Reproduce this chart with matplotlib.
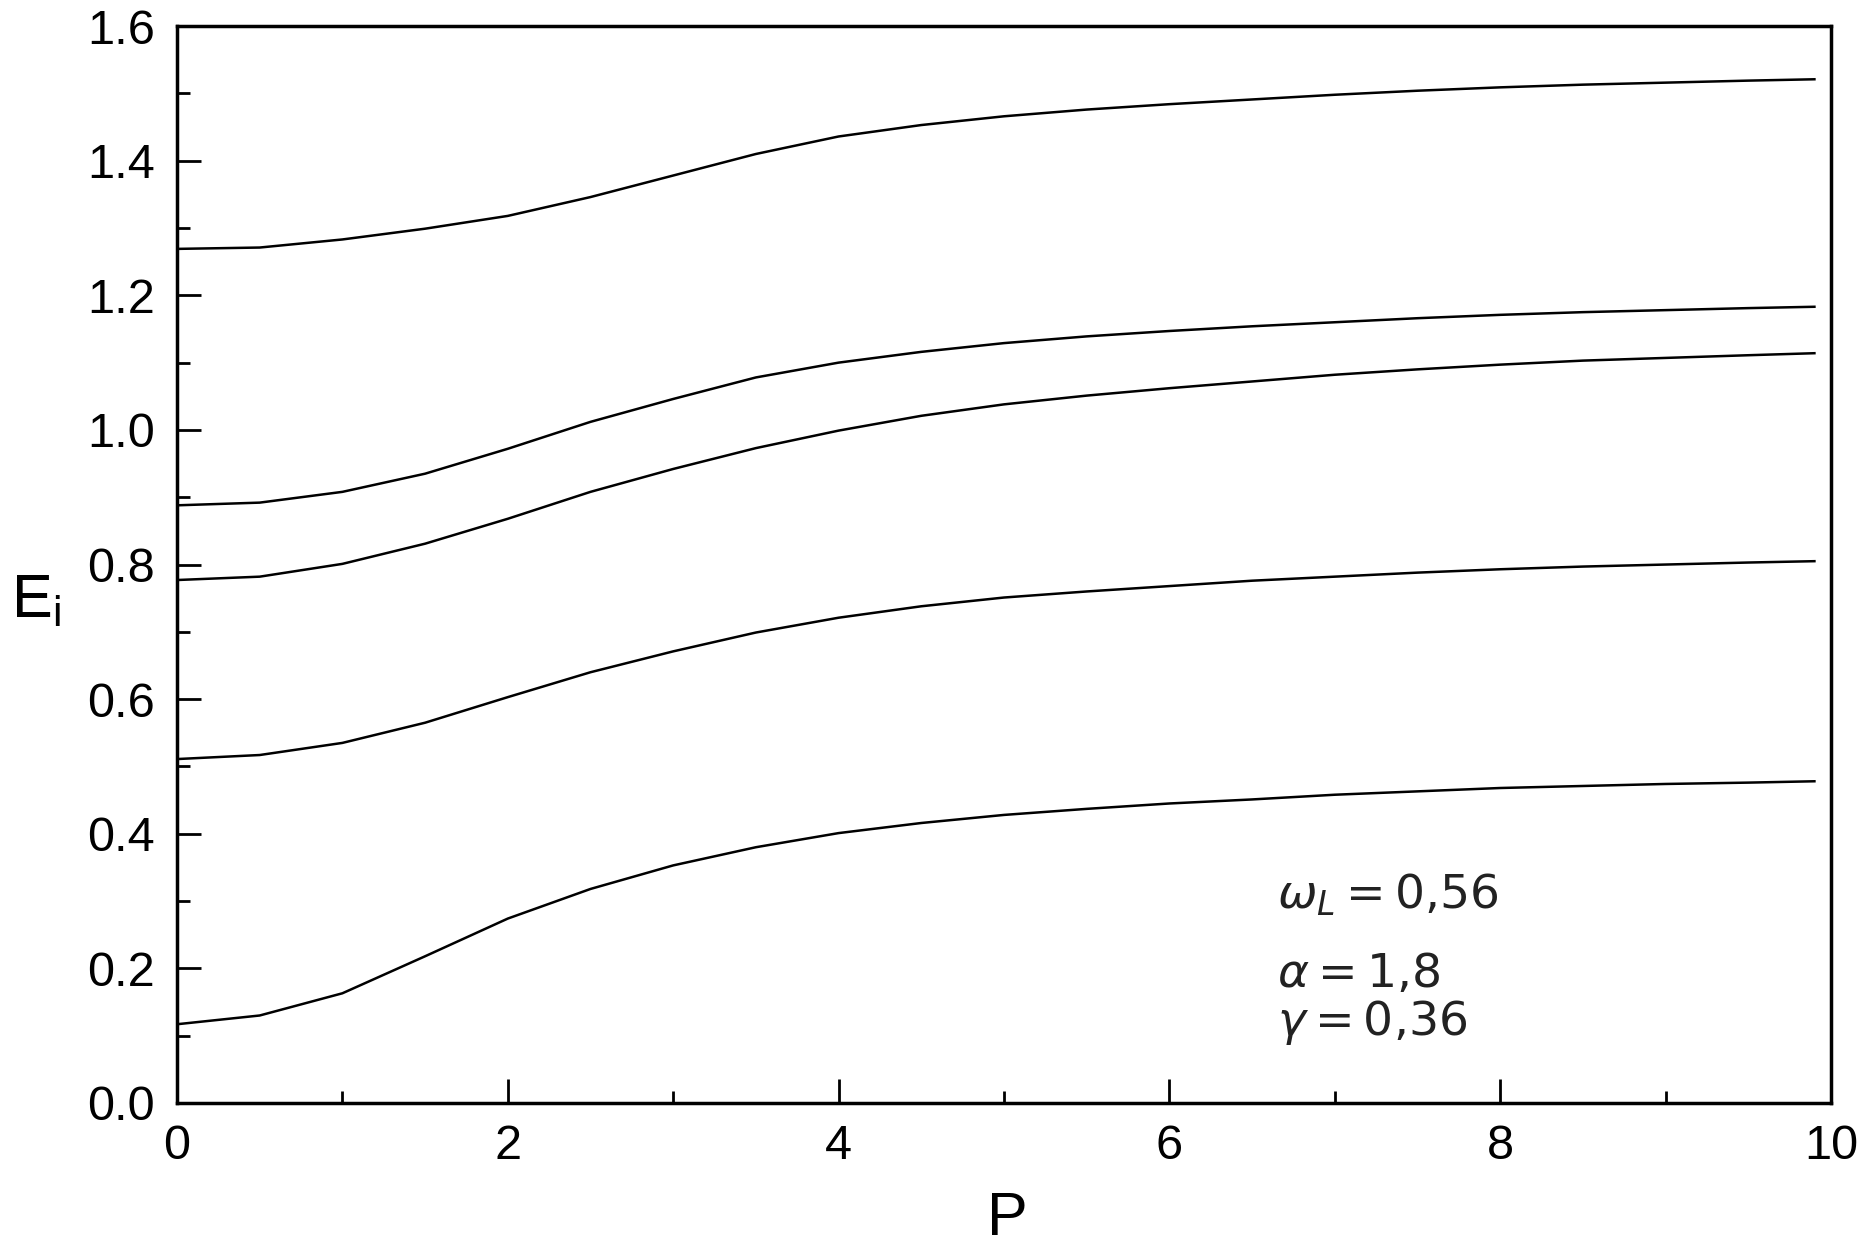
import matplotlib
matplotlib.use("Agg")
import matplotlib.pyplot as plt
from matplotlib.ticker import MultipleLocator

# values
P = [0, 0.5, 1, 1.5, 2, 2.5, 3, 3.5, 4, 4.5, 5, 5.5, 6, 6.5, 7, 7.5, 8, 8.5, 9, 9.5, 9.9]

E1 = [1.269, 1.271, 1.283, 1.299, 1.318, 1.346, 1.378, 1.410, 1.436, 1.453, 1.466,
      1.476, 1.484, 1.491, 1.498, 1.504, 1.509, 1.513, 1.516, 1.519, 1.521]
E2 = [0.888, 0.892, 0.908, 0.935, 0.972, 1.012, 1.046, 1.078, 1.100, 1.116, 1.129,
      1.139, 1.147, 1.154, 1.160, 1.166, 1.171, 1.175, 1.178, 1.181, 1.183]
E3 = [0.777, 0.782, 0.801, 0.831, 0.868, 0.908, 0.942, 0.973, 0.999, 1.021, 1.038,
      1.051, 1.062, 1.072, 1.082, 1.090, 1.097, 1.103, 1.107, 1.111, 1.114]
E4 = [0.511, 0.517, 0.535, 0.565, 0.603, 0.640, 0.671, 0.699, 0.721, 0.738, 0.751,
      0.760, 0.768, 0.776, 0.782, 0.788, 0.793, 0.797, 0.800, 0.803, 0.805]
E5 = [0.117, 0.130, 0.163, 0.218, 0.274, 0.318, 0.353, 0.380, 0.401, 0.416, 0.428,
      0.437, 0.445, 0.451, 0.458, 0.463, 0.468, 0.471, 0.474, 0.476, 0.478]

params = [r"$\omega_L = 0{,}56$", r"$\alpha = 1{,}8$", r"$\gamma = 0{,}36$"]
param_y = [0.308, 0.190, 0.120]

plt.rcParams['font.family'] = ['Liberation Sans', 'DejaVu Sans']
plt.rcParams['mathtext.fontset'] = 'dejavusans'

fig = plt.figure(figsize=(18.71, 12.49), dpi=100)
ax = fig.add_axes([0.0946, 0.1169, 0.8840, 0.8622])

for E in [E1, E2, E3, E4, E5]:
    ax.plot(P, E, color='black', lw=1.8)

ax.set_xlim(0, 10)
ax.set_ylim(0, 1.6)
ax.xaxis.set_major_locator(MultipleLocator(2))
ax.xaxis.set_minor_locator(MultipleLocator(1))
ax.yaxis.set_major_locator(MultipleLocator(0.2))
ax.yaxis.set_minor_locator(MultipleLocator(0.1))
ax.xaxis.set_major_formatter(plt.FuncFormatter(lambda v, p: "%d" % v))
ax.yaxis.set_major_formatter(plt.FuncFormatter(lambda v, p: "%.1f" % v))

ax.tick_params(which='both', direction='in', top=False, right=False, width=2, color='black')
ax.tick_params(which='major', length=17)
ax.tick_params(which='minor', length=9)
ax.tick_params(axis='x', which='major', labelsize=35, pad=15)
ax.tick_params(axis='y', which='major', labelsize=35, pad=16)

for s in ax.spines.values():
    s.set_linewidth(2.5)
    s.set_color('black')

ax.set_xlabel("P", fontsize=44)
ax.xaxis.set_label_coords(0.502, -0.108)
ax.xaxis.label.set_va('center')
ax.set_ylabel(r"E$_\mathregular{i}$", fontsize=44, rotation=0)
ax.yaxis.set_label_coords(-0.085, 0.466)
ax.yaxis.label.set_va('center')
ax.yaxis.label.set_ha('center')

for txt, yy in zip(params, param_y):
    ax.text(6.65, yy, txt, fontsize=34, va='center', ha='left', color='#222222',
            fontstyle='italic')

fig.savefig("out.png", dpi=100, facecolor='white')
